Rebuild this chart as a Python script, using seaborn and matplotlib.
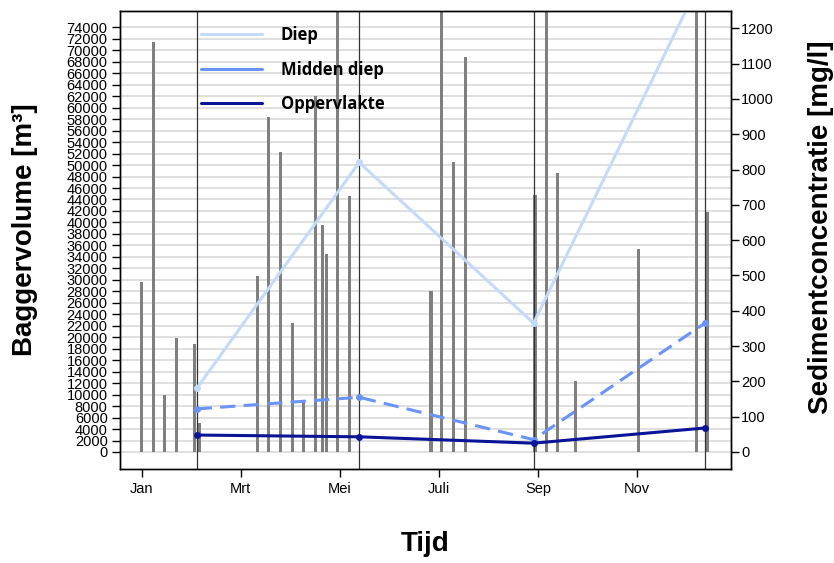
import matplotlib
matplotlib.use("Agg")
import matplotlib.pyplot as plt
from matplotlib import font_manager as fm
from matplotlib.lines import Line2D
import pandas as pd
import seaborn as sns

# Wekelijkse baggervolumes (positie in maanden, 1 = begin januari)
bag_maand = [1.00, 1.23, 1.46, 1.70, 2.06, 2.16, 3.33, 3.56, 3.80, 4.04,
             4.26, 4.50, 4.65, 4.73, 4.96, 5.19, 6.84, 7.06, 7.30, 7.53,
             8.94, 9.17, 9.40, 9.75, 11.03, 12.20, 12.43]
bag_volume = [29700, 71500, 9900, 19900, 18800, 5000, 30700, 58400, 52200, 22500,
              8800, 62000, 39500, 34500, 80000, 44600, 28000, 79000, 50600, 68900,
              44800, 81000, 48700, 12400, 35400, 80500, 41900]

# Sedimentconcentratie per meetmoment en diepte [mg/l]
meet_maand = [2.11, 5.39, 8.91, 12.37]
diep = [180, 820, 365, 1360]
midden_diep = [122, 155, 35, 365]
oppervlakte = [48, 43, 25, 68]

maand_ticks = [1, 3, 5, 7, 9, 11]
maand_labels = ["Jan", "Mrt", "Mei", "Juli", "Sep", "Nov"]

reeks_namen = ["Diep", "Midden diep", "Oppervlakte"]
reeks_kleuren = ["#c4dafb", "#6a93f7", "#0a1496"]

# Alleen de normale (niet-smalle) Liberation Sans gebruiken
fm.fontManager.ttflist = [f for f in fm.fontManager.ttflist
                          if "Narrow" not in f.fname and "Narrow" not in f.name]

sns.set_theme(style="ticks")
plt.rcParams["font.family"] = ["Liberation Sans", "DejaVu Sans"]
plt.rcParams["text.color"] = "black"
plt.rcParams["axes.labelcolor"] = "black"

fig = plt.figure(figsize=(8.34, 5.63), dpi=100)
ax = fig.add_axes([0.1433, 0.1675, 0.7329, 0.8135])

# Baggervolumes als smalle staven op de linker as
ax.set_xlim(0.552, 12.892)
ax.set_ylim(-2910, 76900)
ax.set_yticks(range(0, 74001, 2000))
ax.yaxis.grid(True, color="#d9d9d9", lw=1.2)
ax.set_axisbelow(True)
ax.bar(bag_maand, bag_volume, width=0.062, color="#7f7f7f",
       edgecolor="none", linewidth=0, zorder=2)
for m in meet_maand:
    ax.axvline(m, color="#333333", lw=0.9, zorder=3)

ax.set_xticks(maand_ticks)
ax.set_xticklabels(maand_labels)
ax.tick_params(axis="both", direction="out", length=5.5, width=1.0,
               color="black", labelsize=10.5, labelcolor="black")
ax.tick_params(axis="x", pad=4)
ax.tick_params(axis="y", pad=3)
for sp in ax.spines.values():
    sp.set_visible(True)
    sp.set_color("black")
    sp.set_linewidth(1.0)

# Concentraties op de rechter as
ax2 = ax.twinx()
ax2.set_ylim(-47.3, 1249.8)
ax2.set_yticks(range(0, 1201, 100))
ax2.tick_params(axis="y", direction="out", length=5.5, width=1.0,
                color="black", labelsize=10.5, labelcolor="black", pad=2)
for sp in ax2.spines.values():
    sp.set_visible(True)
    sp.set_color("black")
    sp.set_linewidth(1.0)

df = pd.DataFrame({"maand": meet_maand, "Diep": diep,
                   "Midden diep": midden_diep, "Oppervlakte": oppervlakte})
stijlen = ["-", (0, (5, 2.7)), "-"]
for naam, kleur, stijl in zip(reeks_namen, reeks_kleuren, stijlen):
    sns.lineplot(data=df, x="maand", y=naam, ax=ax2, color=kleur, lw=2.2,
                 linestyle=stijl, marker="o", markersize=5, markeredgewidth=0,
                 legend=False)
ax2.set_xlabel("")
ax2.set_ylabel("")
ax.set_xlabel("")
ax.set_ylabel("")

handles = [Line2D([], [], color=k, lw=2.2) for k in reeks_kleuren]
ax2.legend(handles, reeks_namen, loc="upper left", bbox_to_anchor=(0.133, 0.966),
           frameon=False, borderpad=0, borderaxespad=0, handlelength=3.7,
           handletextpad=1.1, labelspacing=0.99, labelcolor="black",
           prop=dict(family="Open Sans", weight="bold", size=12))

fig.text(25 / 834, 1 - 230 / 563, "Baggervolume [m³]", rotation=90,
         ha="center", va="center", fontsize=20, fontweight="bold", color="black")
fig.text(821 / 834, 1 - 227 / 563, "Sedimentconcentratie [mg/l]", rotation=90,
         ha="center", va="center", fontsize=20, fontweight="bold", color="black")
fig.text(425 / 834, 1 - 544 / 563, "Tijd", ha="center", va="center",
         fontsize=20, fontweight="bold", color="black")

fig.savefig("out.png", dpi=100)
